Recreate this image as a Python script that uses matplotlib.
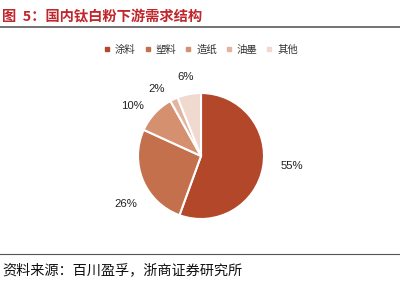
import matplotlib
matplotlib.use("Agg")
import matplotlib.pyplot as plt
import numpy as np

plt.rcParams['font.family'] = ['Noto Sans CJK SC', 'DejaVu Sans']

categories = ['涂料', '塑料', '造纸', '油墨', '其他']
values = [55, 26, 10, 2, 6]
colors = ['#B3472A', '#C4704D', '#D4906F', '#E3B5A1', '#F0D9CE']
title = '图  5：国内钛白粉下游需求结构'
source = '资料来源：百川盈孚，浙商证券研究所'

fig = plt.figure(figsize=(4.0, 2.9), dpi=100)
W, H = 400, 290
cx, cy, r = 201, 156, 63
ax = fig.add_axes([(cx - r) / W, 1 - (cy + r) / H, 2 * r / W, 2 * r / H])
wedges, _ = ax.pie(values, colors=colors, startangle=90, counterclock=False,
                   wedgeprops=dict(edgecolor='white', linewidth=1.5))
ax.set_xlim(-1, 1)
ax.set_ylim(-1, 1)
ax.set_aspect('equal')
ax.axis('off')

# label placement (distance in radii, angular nudge in degrees)
dists = [1.46, 1.42, 1.34, 1.28, 1.27]
nudges = [3.5, 9.5, 6.8, 8.0, 0.0]
for w, v, d, n in zip(wedges, values, dists, nudges):
    ang = np.deg2rad((w.theta1 + w.theta2) / 2 + n)
    ax.text(d * np.cos(ang), d * np.sin(ang), f'{v}%', ha='center', va='center',
            fontsize=8.2, color='#222222', family=['Liberation Sans', 'DejaVu Sans'])

handles = [plt.Line2D([], [], marker='s', linestyle='', markersize=3.5,
                      markerfacecolor=c, markeredgecolor=c) for c in colors]
fig.legend(handles, categories, loc='center', bbox_to_anchor=(0.5025, 1 - 50 / H),
           ncol=5, frameon=False, fontsize=7.5, handlelength=0.6,
           handletextpad=0.45, columnspacing=0.85, labelcolor='#333333')

fig.text(2 / W, 1 - 17 / H, title, fontsize=10.3, color='#C0272D',
         fontweight='bold', ha='left', va='center')
fig.add_artist(plt.Line2D([0, 1], [1 - 27 / H, 1 - 27 / H], color='#666666', linewidth=1.3))
fig.add_artist(plt.Line2D([0, 1], [1 - 254 / H, 1 - 254 / H], color='#555555', linewidth=0.8))
fig.text(2 / W, 1 - 270 / H, source, fontsize=10.2, color='#111111',
         ha='left', va='center')

fig.savefig('out.png', dpi=100)
